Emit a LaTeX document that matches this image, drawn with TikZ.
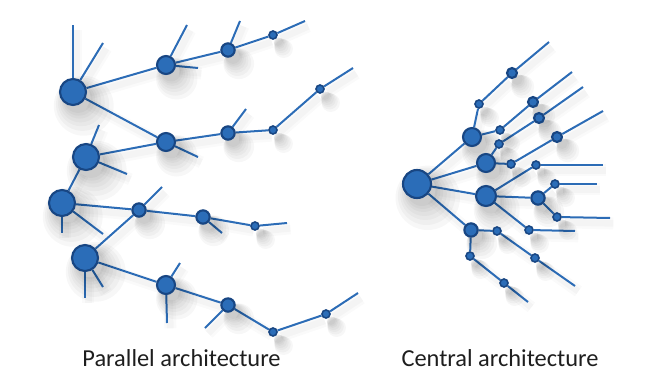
\documentclass[tikz,border=0pt]{standalone}
\usepackage{fontspec}
\setmainfont{Carlito}
\usetikzlibrary{shadows}
\definecolor{nodefill}{HTML}{2B6DB8}
\definecolor{nodeline}{HTML}{184683}
\definecolor{linkblue}{HTML}{2C6CB6}
\definecolor{textgray}{HTML}{1E1E1E}
\pgfdeclarelayer{bg}
\pgfsetlayers{bg,main}
\tikzset{
  softshadow/.style={general shadow={fill=black, opacity=0.03, shadow scale=#1, shadow xshift=3.5pt, shadow yshift=-4.5pt}},
  dot/.style={circle, inner sep=0pt, fill=nodefill, draw=nodeline, line width=1.6pt,
    softshadow=2.3, softshadow=2.05, softshadow=1.8, softshadow=1.6,
    softshadow=1.4, softshadow=1.25, softshadow=1.1},
  big/.style={dot, minimum size=19.5pt},
  hub/.style={dot, minimum size=21pt},
  mid/.style={dot, minimum size=13.5pt},
  midb/.style={dot, minimum size=15pt},
  sml/.style={dot, minimum size=10pt},
  smx/.style={dot, minimum size=7.5pt},
  tny/.style={dot, minimum size=6pt, line width=1.2pt},
  link/.style={draw=linkblue, line width=1.5pt,
    preaction={draw=black, line width=9pt, opacity=0.02, transform canvas={xshift=2.5pt, yshift=-4pt}},
    preaction={draw=black, line width=5pt, opacity=0.025, transform canvas={xshift=2.5pt, yshift=-4pt}}},
  lbl/.style={font=\fontsize{18.3pt}{22pt}\selectfont, text=textgray, anchor=base, inner sep=0pt}
}
\begin{document}
\begin{tikzpicture}[x=0.75pt, y=-0.75pt]
\useasboundingbox (0,0) rectangle (670,385);
% ---------- Parallel architecture ----------
\node[big] (A1) at (73,92) {};
\node[mid] (B1) at (166,65) {};
\node[sml] (C1) at (228,50) {};
\node[tny] (D1) at (273,35) {};
\node[big] (A2) at (86,157) {};
\node[mid] (B2) at (166,142) {};
\node[sml] (C2) at (228,133) {};
\node[tny] (D2) at (273,130) {};
\node[tny] (E2) at (320,89) {};
\node[big] (A3) at (62,203) {};
\node[sml] (C3) at (139,210) {};
\node[sml] (D3) at (203,217) {};
\node[tny] (E3) at (255,226) {};
\node[big] (A4) at (85,258) {};
\node[mid] (B4) at (166,285) {};
\node[sml] (C4) at (228,305) {};
\node[tny] (D4) at (273,332) {};
\node[tny] (E4) at (326,314) {};
% free ends
\coordinate (a1u) at (73,25);
\coordinate (a1r) at (103,43);
\coordinate (b1u) at (187,25);
\coordinate (b1r) at (198,68);
\coordinate (c1u) at (240,21);
\coordinate (d1e) at (305,21);
\coordinate (b2r) at (198,157);
\coordinate (c2u) at (246,109);
\coordinate (e2e) at (353,68);
\coordinate (a2u) at (99,125);
\coordinate (a2r) at (127,174);
\coordinate (a3d) at (62,233);
\coordinate (a3r) at (103,234);
\coordinate (c3u) at (162,187);
\coordinate (d3d) at (222,233);
\coordinate (e3e) at (287,223);
\coordinate (a4d) at (85,298);
\coordinate (a4r) at (103,287);
\coordinate (b4u) at (180,263);
\coordinate (b4d) at (167,323);
\coordinate (c4d) at (205,328);
\coordinate (e4e) at (358,293);
% ---------- Central architecture ----------
\node[hub] (H) at (417,184) {};
\node[mid] (N1) at (472,137) {};
\node[tny] (N1a) at (479,104) {};
\node[smx] (N1b) at (512,73) {};
\node[tny] (N1c) at (500,130) {};
\node[smx] (N1d) at (533,102) {};
\node[mid] (N2) at (486,163) {};
\node[tny] (N2a) at (499,144) {};
\node[smx] (N2b) at (539,118) {};
\node[tny] (N2c) at (511,164) {};
\node[smx] (N2d) at (557,137) {};
\node[midb] (N3) at (486,196) {};
\node[tny] (N3a) at (536,165) {};
\node[sml] (N3b) at (538,198) {};
\node[tny] (N3c) at (555,184) {};
\node[tny] (N3d) at (557,217) {};
\node[tny] (N3e) at (529,230) {};
\node[sml] (N4) at (471,230) {};
\node[tny] (N4a) at (497,231) {};
\node[tny] (N4b) at (535,258) {};
\node[tny] (N4c) at (470,256) {};
\node[tny] (N4d) at (504,283) {};
\coordinate (n1be) at (549,42);
\coordinate (n1de) at (572,72);
\coordinate (n2be) at (583,87);
\coordinate (n2de) at (603,111);
\coordinate (n3ae) at (603,165);
\coordinate (n3ce) at (597,184);
\coordinate (n3de) at (610,218);
\coordinate (n3ee) at (575,231);
\coordinate (n4be) at (575,286);
\coordinate (n4de) at (528,302);
% labels
\node[lbl] (t1) at (181.5,366) {Parallel architecture};
\node[lbl] (t2) at (500,366) {Central architecture};
\begin{pgfonlayer}{bg}
\draw[link] (A1) -- (a1u);
\draw[link] (A1) -- (a1r);
\draw[link] (A1) -- (B1);
\draw[link] (A1) -- (B2);
\draw[link] (B1) -- (b1u);
\draw[link] (B1) -- (b1r);
\draw[link] (B1) -- (C1);
\draw[link] (C1) -- (c1u);
\draw[link] (C1) -- (D1);
\draw[link] (D1) -- (d1e);
\draw[link] (A2) -- (B2);
\draw[link] (A2) -- (a2u);
\draw[link] (A2) -- (a2r);
\draw[link] (A2) -- (A3);
\draw[link] (B2) -- (b2r);
\draw[link] (B2) -- (C2);
\draw[link] (C2) -- (c2u);
\draw[link] (C2) -- (D2);
\draw[link] (D2) -- (E2);
\draw[link] (E2) -- (e2e);
\draw[link] (A3) -- (a3d);
\draw[link] (A3) -- (a3r);
\draw[link] (A3) -- (C3);
\draw[link] (C3) -- (c3u);
\draw[link] (C3) -- (A4);
\draw[link] (C3) -- (D3);
\draw[link] (D3) -- (d3d);
\draw[link] (D3) -- (E3);
\draw[link] (E3) -- (e3e);
\draw[link] (A4) -- (a4d);
\draw[link] (A4) -- (a4r);
\draw[link] (A4) -- (B4);
\draw[link] (B4) -- (b4u);
\draw[link] (B4) -- (b4d);
\draw[link] (B4) -- (C4);
\draw[link] (C4) -- (c4d);
\draw[link] (C4) -- (D4);
\draw[link] (D4) -- (E4);
\draw[link] (E4) -- (e4e);
% central
\draw[link] (H) -- (N1);
\draw[link] (H) -- (N2);
\draw[link] (H) -- (N3);
\draw[link] (H) -- (N4);
\draw[link] (N1) -- (N1a);
\draw[link] (N1a) -- (N1b);
\draw[link] (N1b) -- (n1be);
\draw[link] (N1) -- (N1c);
\draw[link] (N1c) -- (N1d);
\draw[link] (N1d) -- (n1de);
\draw[link] (N2) -- (N2a);
\draw[link] (N2a) -- (N2b);
\draw[link] (N2b) -- (n2be);
\draw[link] (N2) -- (N2c);
\draw[link] (N2c) -- (N2d);
\draw[link] (N2d) -- (n2de);
\draw[link] (N3) -- (N3a);
\draw[link] (N3a) -- (n3ae);
\draw[link] (N3) -- (N3b);
\draw[link] (N3b) -- (N3c);
\draw[link] (N3c) -- (n3ce);
\draw[link] (N3b) -- (N3d);
\draw[link] (N3d) -- (n3de);
\draw[link] (N3) -- (N3e);
\draw[link] (N3e) -- (n3ee);
\draw[link] (N4) -- (N4a);
\draw[link] (N4a) -- (N4b);
\draw[link] (N4b) -- (n4be);
\draw[link] (N4) -- (N4c);
\draw[link] (N4c) -- (N4d);
\draw[link] (N4d) -- (n4de);
\end{pgfonlayer}
\end{tikzpicture}
\end{document}
